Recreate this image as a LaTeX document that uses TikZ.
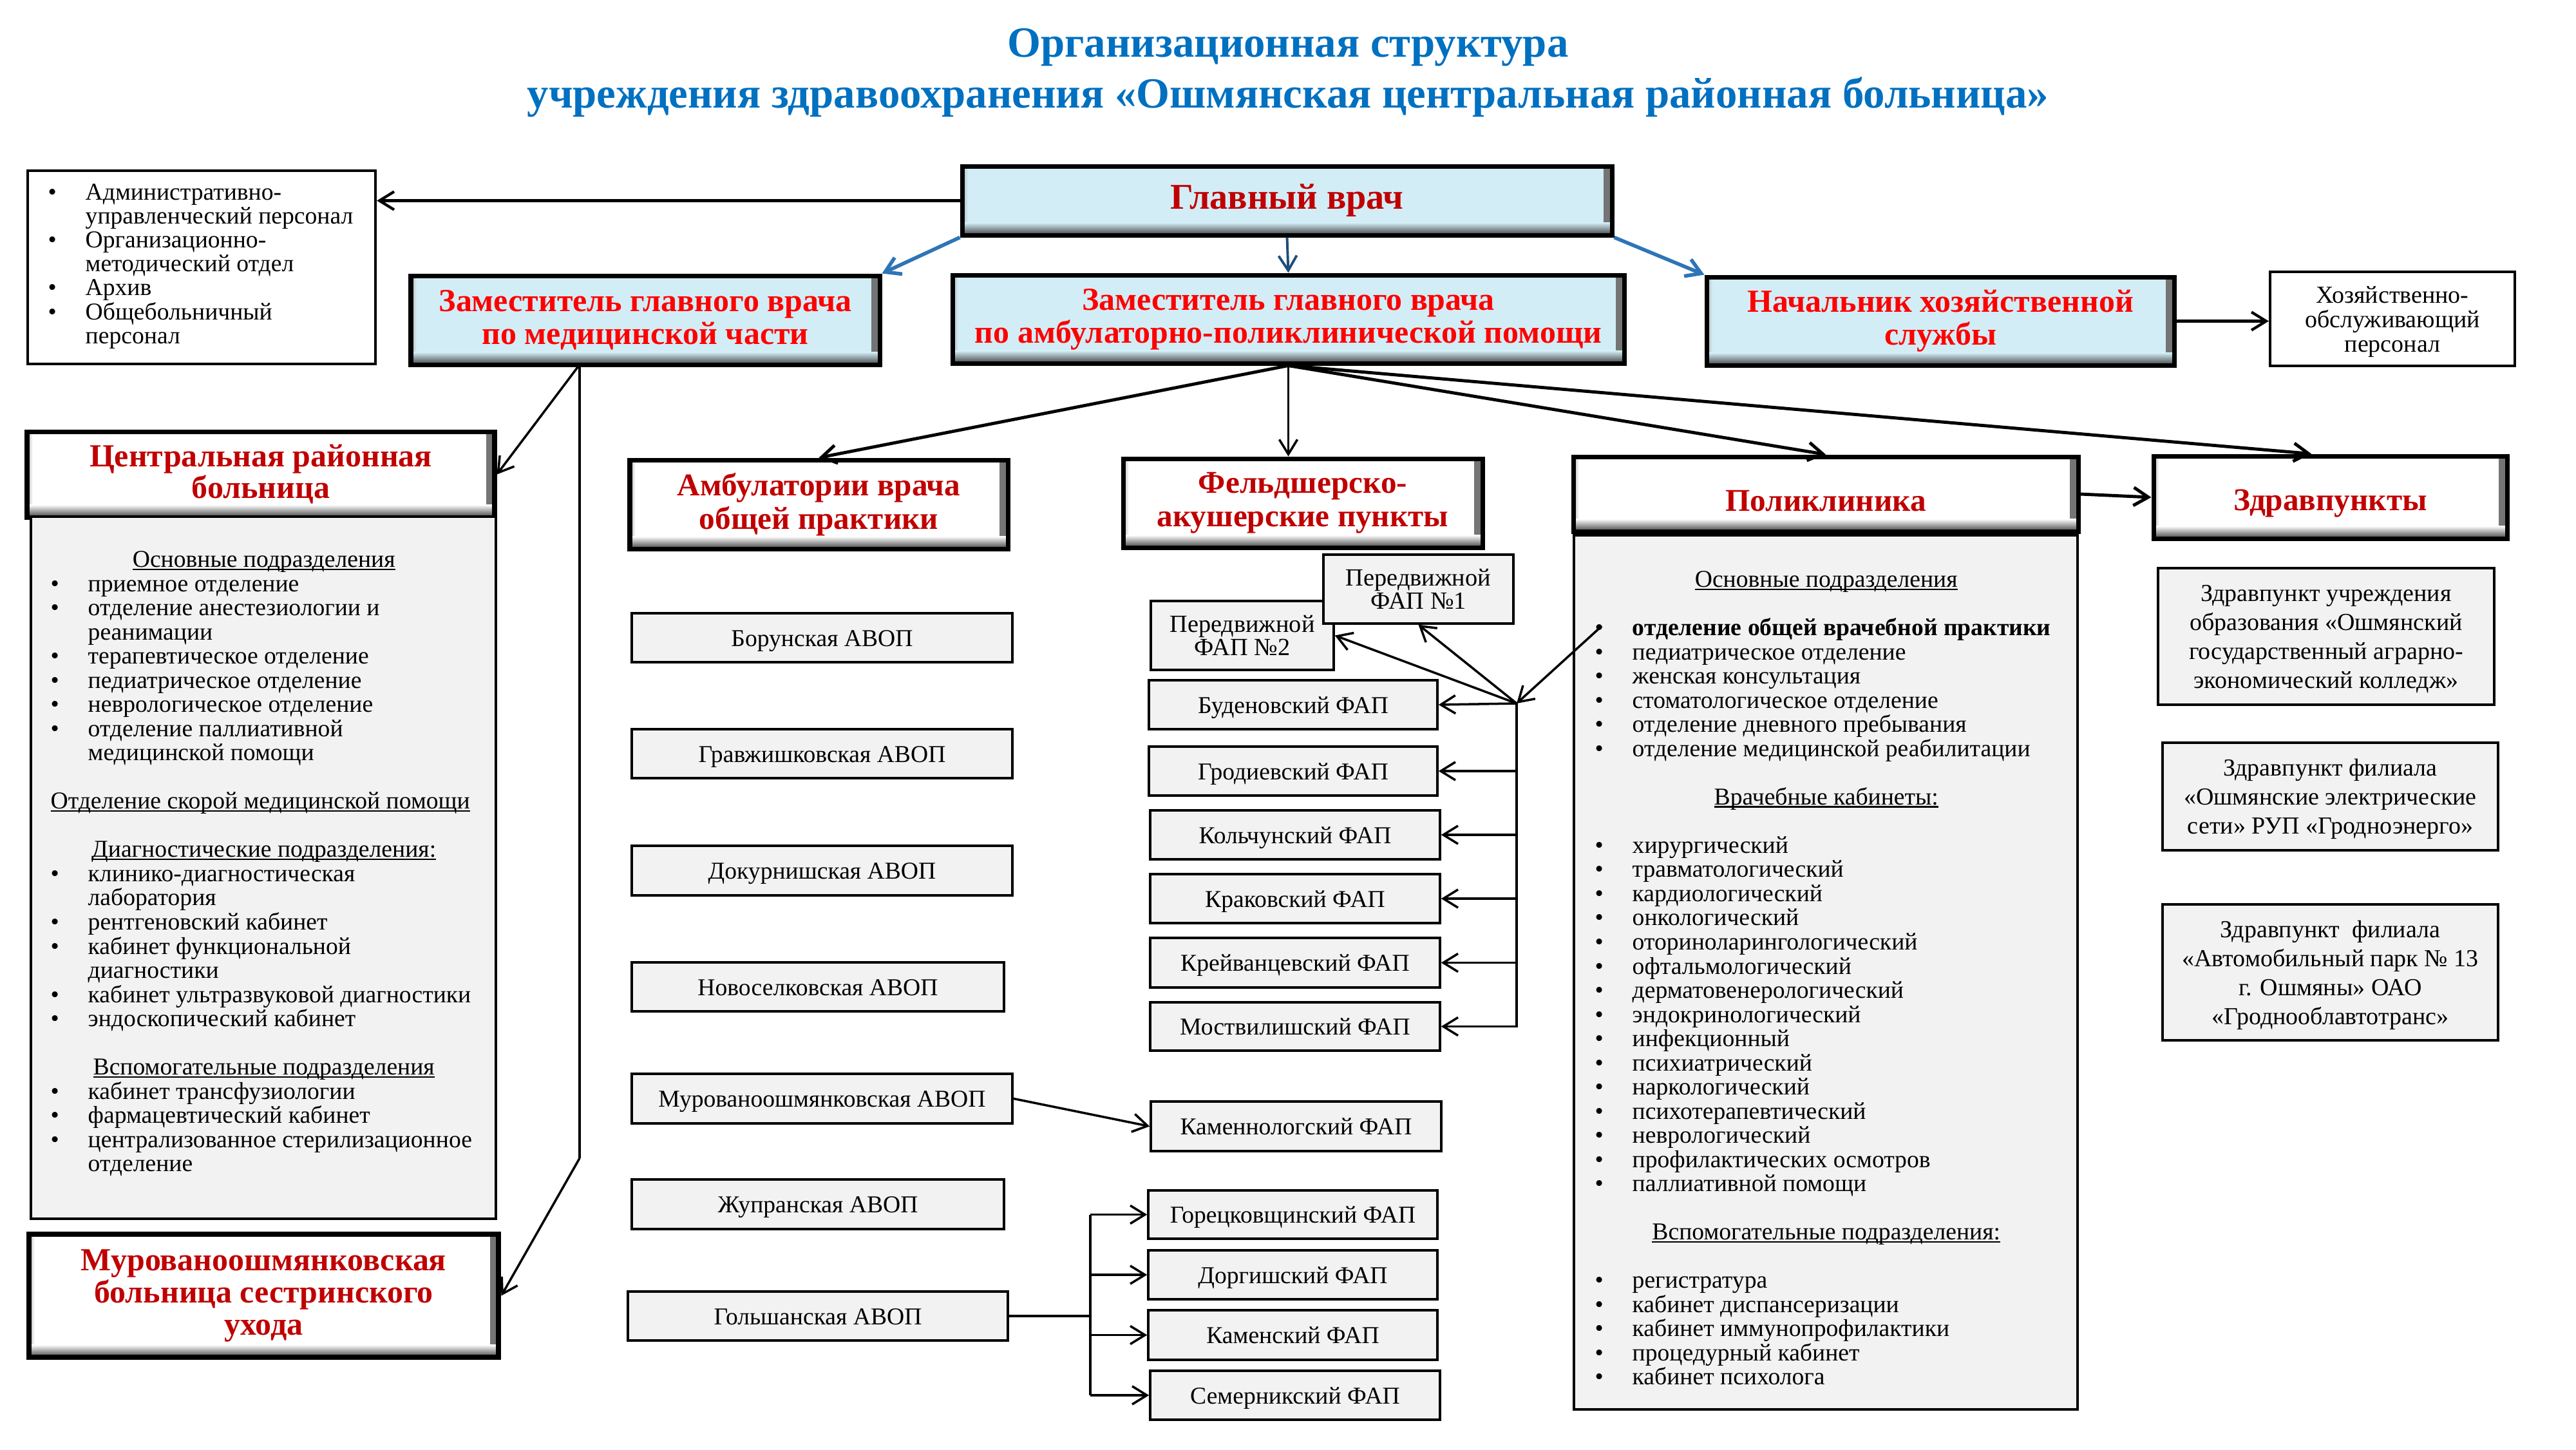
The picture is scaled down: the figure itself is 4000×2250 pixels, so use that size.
\documentclass[tikz,border=0pt]{standalone}
\usepackage{fontspec}
\setmainfont{Liberation Serif}
\usetikzlibrary{arrows.meta,calc}
\definecolor{tblue}{RGB}{0,112,192}
\definecolor{dred}{RGB}{192,0,0}
\definecolor{bred}{RGB}{255,0,0}
\definecolor{lblue}{RGB}{210,237,246}
\definecolor{lgray}{RGB}{242,242,242}
\definecolor{ablue}{RGB}{46,117,182}
\definecolor{nblue}{RGB}{31,78,121}
\newlength\pxu
\setlength\pxu{0.01cm}
\newcommand\myul[1]{\setbox0=\hbox{#1}\rlap{\rule[-0.11em]{\wd0}{0.055em}}\box0}
\newcommand\mybul{\makebox[58\pxu][l]{•}}
\newcommand\myind{\hspace*{58\pxu}}
\newcommand\mybox[7]{%
  \node[#1, minimum width={(#5-#3)*0.01cm}, minimum height={(#6-#4)*0.01cm}] (#2) at ({(#3+#5)/2},{(#4+#6)/2}) {#7};}
\tikzset{
  bevel/.style={path picture={
    \shade[left color=#1, right color=black!55] ([xshift=-3.5pt]path picture bounding box.north east) rectangle (path picture bounding box.south east);
    \shade[left color=black!30, right color=#1] (path picture bounding box.north west) rectangle ([xshift=2.5pt]path picture bounding box.south west);
    \shade[top color=#1, bottom color=black!75] ([yshift=5.5pt]path picture bounding box.south west) rectangle (path picture bounding box.south east);
  }},
  hdrblue/.style={draw=black, line width=2pt, fill=lblue, bevel=lblue, inner sep=0pt, align=center,
    font=\bfseries\fontsize{14.2}{14.5}\selectfont, text=bred},
  hdrwhite/.style={draw=black, line width=2pt, fill=white, bevel=white, inner sep=0pt, align=center,
    font=\bfseries\fontsize{14}{14.8}\selectfont, text=dred},
  pbox/.style={draw=black, line width=1pt, fill=lgray, inner sep=0pt, align=center,
    font=\fontsize{10.7}{12}\selectfont},
  one/.style={pbox, text height=7.4pt, text depth=0pt},
  wbox/.style={draw=black, line width=1.2pt, fill=white, inner sep=0pt},
  bodybox/.style={draw=black, line width=1.2pt, fill=lgray, inner sep=0pt},
  listtxt/.style={inner sep=0pt, align=left, anchor=north west},
  barb/.style={-{Straight Barb[length=6.5pt,width=8pt]}},
  cline/.style={draw=black, line width=1.2pt},
}
\begin{document}
\lineskiplimit=-20pt
\begin{tikzpicture}[x=0.01cm,y=-0.01cm]
\fill[white] (0,0) rectangle (4000,2250);
\useasboundingbox (0,0) rectangle (4000,2250);

% title
\node[anchor=base, inner sep=0pt, text=tblue, font=\bfseries\fontsize{19}{22}\selectfont] (t1) at (2000,88) {Организационная структура};
\node[anchor=base, inner sep=0pt, text=tblue, font=\bfseries\fontsize{19}{22}\selectfont] (t2) at (2000,167) {учреждения здравоохранения «Ошмянская центральная районная больница»};

% top level
\mybox{hdrblue, text=dred, font=\bfseries\fontsize{16}{19}\selectfont}{glav}{1494}{258}{2503}{365}{Главный врач}
\mybox{hdrblue}{zammed}{638}{428}{1366}{566}{Заместитель главного врача\\по медицинской части}
\mybox{hdrblue}{zamamb}{1479}{427}{2522}{564}{Заместитель главного врача\\по амбулаторно-поликлинической помощи}
\mybox{hdrblue}{nach}{2650}{430}{3376}{567}{Начальник хозяйственной\\службы}

\mybox{wbox}{admin}{43}{265}{583}{565}{}
\node[listtxt, font=\fontsize{10.7}{10.58}\selectfont] (admintxt) at (74,284.5)
  {\mybul Административно-\\\myind управленческий персонал\\\mybul Организационно-\\\myind методический отдел\\\mybul Архив\\\mybul Общебольничный\\\myind персонал};

\mybox{wbox, align=center, text depth=0pt, font=\fontsize{10.8}{10.8}\selectfont}{hoz}{3525}{422}{3905}{568}{Хозяйственно-\\обслуживающий\\персонал}

% central district hospital
\mybox{hdrwhite, font=\bfseries\fontsize{14.2}{13.9}\selectfont}{crbh}{42}{670}{768}{803}{Центральная районная\\больница}
\mybox{bodybox}{crbb}{48}{802}{770}{1892}{}
\node[listtxt, font=\fontsize{10.7}{10.67}\selectfont] (crbtxt) at (78,855) {%
\makebox[662\pxu]{\myul{Основные подразделения}}\\
\mybul приемное отделение\\
\mybul отделение анестезиологии и\\
\myind реанимации\\
\mybul терапевтическое отделение\\
\mybul педиатрическое отделение\\
\mybul неврологическое отделение\\
\mybul отделение паллиативной\\
\myind медицинской помощи\\
\mbox{}\\
\myul{Отделение скорой медицинской помощи}\\
\mbox{}\\
\makebox[662\pxu]{\myul{Диагностические подразделения:}}\\
\mybul клинико-диагностическая\\
\myind лаборатория\\
\mybul рентгеновский кабинет\\
\mybul кабинет функциональной\\
\myind диагностики\\
\mybul кабинет ультразвуковой диагностики\\
\mybul эндоскопический кабинет\\
\mbox{}\\
\makebox[662\pxu]{\myul{Вспомогательные подразделения}}\\
\mybul кабинет трансфузиологии\\
\mybul фармацевтический кабинет\\
\mybul централизованное стерилизационное\\
\myind отделение};
\mybox{hdrwhite, line width=2.5pt, font=\bfseries\fontsize{14.2}{14.2}\selectfont}{mbsu}{45}{1916}{774}{2107}{Мурованоошмянковская\\больница сестринского\\ухода}

% ambulatories
\mybox{hdrwhite}{amb}{978}{714}{1565}{852}{Амбулатории врача\\общей практики}
\mybox{one}{bor}{981}{952}{1572}{1028}{Борунская АВОП}
\mybox{one}{grav}{981}{1132}{1572}{1208}{Гравжишковская АВОП}
\mybox{one}{dok}{981}{1313}{1572}{1390}{Докурнишская АВОП}
\mybox{one}{novo}{981}{1494}{1559}{1570}{Новоселковская АВОП}
\mybox{one}{murav}{981}{1667}{1572}{1744}{Мурованоошмянковская АВОП}
\mybox{one}{zhup}{981}{1831}{1559}{1908}{Жупранская АВОП}
\mybox{one}{golsh}{975}{2005}{1565}{2081}{Гольшанская АВОП}

% FAP
\mybox{hdrwhite}{fap}{1744}{712}{2302}{850}{Фельдшерско-\\акушерские пункты}
\mybox{pbox, font=\fontsize{10.9}{10.24}\selectfont}{p2}{1787}{933}{2071}{1040}{Передвижной\\ФАП №2}
\mybox{pbox, font=\fontsize{10.9}{10.24}\selectfont}{p1}{2055}{861}{2350}{968}{Передвижной\\ФАП №1}
\mybox{one}{bud}{1784}{1056}{2232}{1132}{Буденовский ФАП}
\mybox{one}{grod}{1784}{1159}{2232}{1235}{Гродиевский ФАП}
\mybox{one}{kolch}{1786}{1258}{2236}{1334}{Кольчунский ФАП}
\mybox{one}{krak}{1786}{1357}{2236}{1433}{Краковский ФАП}
\mybox{one}{kreiv}{1786}{1456}{2236}{1533}{Крейванцевский ФАП}
\mybox{one}{most}{1786}{1556}{2236}{1631}{Моствилишский ФАП}
\mybox{one}{kamenn}{1787}{1710}{2238}{1787}{Каменнологский ФАП}
\mybox{one}{gor}{1783}{1848}{2232}{1923}{Горецковщинский ФАП}
\mybox{one}{dorg}{1783}{1941}{2232}{2017}{Доргишский ФАП}
\mybox{one}{kamensk}{1783}{2034}{2232}{2111}{Каменский ФАП}
\mybox{one}{semer}{1786}{2128}{2236}{2204}{Семерникский ФАП}

% polyclinic
\mybox{hdrwhite, text height=15pt, text depth=0pt}{polh}{2443}{709}{3227}{825}{Поликлиника}
\mybox{bodybox}{polb}{2444}{831}{3226}{2188}{}
\node[listtxt, font=\fontsize{10.7}{10.67}\selectfont] (poltxt) at (2476,886) {%
\makebox[718\pxu]{\myul{Основные подразделения}}\\
\mbox{}\\
\mybul\textbf{отделение общей врачебной практики}\\
\mybul педиатрическое отделение\\
\mybul женская консультация\\
\mybul стоматологическое отделение\\
\mybul отделение дневного пребывания\\
\mybul отделение медицинской реабилитации\\
\mbox{}\\
\makebox[718\pxu]{\myul{Врачебные кабинеты:}}\\
\mbox{}\\
\mybul хирургический\\
\mybul травматологический\\
\mybul кардиологический\\
\mybul онкологический\\
\mybul оториноларингологический\\
\mybul офтальмологический\\
\mybul дерматовенерологический\\
\mybul эндокринологический\\
\mybul инфекционный\\
\mybul психиатрический\\
\mybul наркологический\\
\mybul психотерапевтический\\
\mybul неврологический\\
\mybul профилактических осмотров\\
\mybul паллиативной помощи\\
\mbox{}\\
\makebox[718\pxu]{\myul{Вспомогательные подразделения:}}\\
\mbox{}\\
\mybul регистратура\\
\mybul кабинет диспансеризации\\
\mybul кабинет иммунопрофилактики\\
\mybul процедурный кабинет\\
\mybul кабинет психолога};

% health points
\mybox{hdrwhite, text height=11.8pt, text depth=0pt}{zdrh}{3344}{708}{3893}{836}{Здравпункты}
\mybox{pbox, text depth=0pt, font=\fontsize{10.8}{12.8}\selectfont}{zd1}{3351}{882}{3873}{1094}{Здравпункт учреждения\\образования «Ошмянский\\государственный аграрно-\\экономический колледж»}
\mybox{pbox, text depth=0pt, font=\fontsize{10.8}{12.8}\selectfont}{zd2}{3358}{1153}{3879}{1320}{Здравпункт филиала\\«Ошмянские электрические\\сети» РУП «Гродноэнерго»}
\mybox{pbox, text depth=0pt, font=\fontsize{10.8}{12.8}\selectfont}{zd3}{3358}{1404}{3879}{1615}{Здравпункт~ филиала\\«Автомобильный парк № 13\\г. Ошмяны» ОАО\\«Гроднооблавтотранс»}

% connectors
\draw[cline, barb] (glav.west) -- (glav.west -| admin.east);
\draw[line width=1.6pt, draw=ablue, barb] (glav.south west) -- (zammed.north east);
\draw[line width=1.1pt, draw=nblue, barb] (glav.south) -- (zamamb.north);
\draw[line width=1.6pt, draw=ablue, barb] (glav.south east) -- (nach.north west);
\draw[cline, barb] (nach.east) -- (nach.east -| hoz.west);

\coordinate (zmb) at (900,566);
\coordinate (zmv) at (900,1798);
\draw[cline, line width=1pt, barb] (zmb) -- (crbh.east);
\draw[cline, line width=1pt] (zmb) -- (zmv);
\draw[cline, line width=1pt, barb] (zmv) -- (mbsu.east);

\draw[cline, line width=1.4pt, barb] (zamamb.south) -- (amb.north);
\draw[cline, line width=1pt, barb] (zamamb.south) -- (zamamb.south |- fap.north);
\draw[cline, line width=1.4pt, barb] (zamamb.south) -- (polh.north);
\draw[cline, line width=1.4pt, barb] (zamamb.south) -- ($(zdrh.north west)!0.447!(zdrh.north east)$);
\draw[cline, line width=1.4pt, barb] (polh.east) -- (zdrh.west);

\coordinate (hub) at (2355,1092);
\coordinate (src) at (2487,972);
\draw[cline, line width=1pt, barb] (src) -- (hub);
\draw[cline, line width=1pt, barb] (hub) -- (p1.south);
\draw[cline, line width=1pt, barb] (hub) -- (p2.east);
\draw[cline, line width=1pt, barb] (hub) -- (bud.east);
\draw[cline, line width=1pt, barb] (hub) -- (hub |- most.east) -- (most.east);
\foreach \n in {grod,kolch,krak,kreiv}
  \draw[cline, line width=1pt, barb] (hub |- \n.east) -- (\n.east);

\draw[cline, line width=1pt, barb] (murav.east) -- (kamenn.west);

\coordinate (brk) at (1693,2044);
\draw[cline, line width=1pt] (golsh.east) -- (golsh.east -| brk);
\draw[cline, line width=1pt] (brk |- gor.west) -- (brk |- semer.west);
\foreach \n in {gor,dorg,kamensk,semer}
  \draw[cline, line width=1pt, barb] (brk |- \n.west) -- (\n.west);
\end{tikzpicture}
\end{document}
